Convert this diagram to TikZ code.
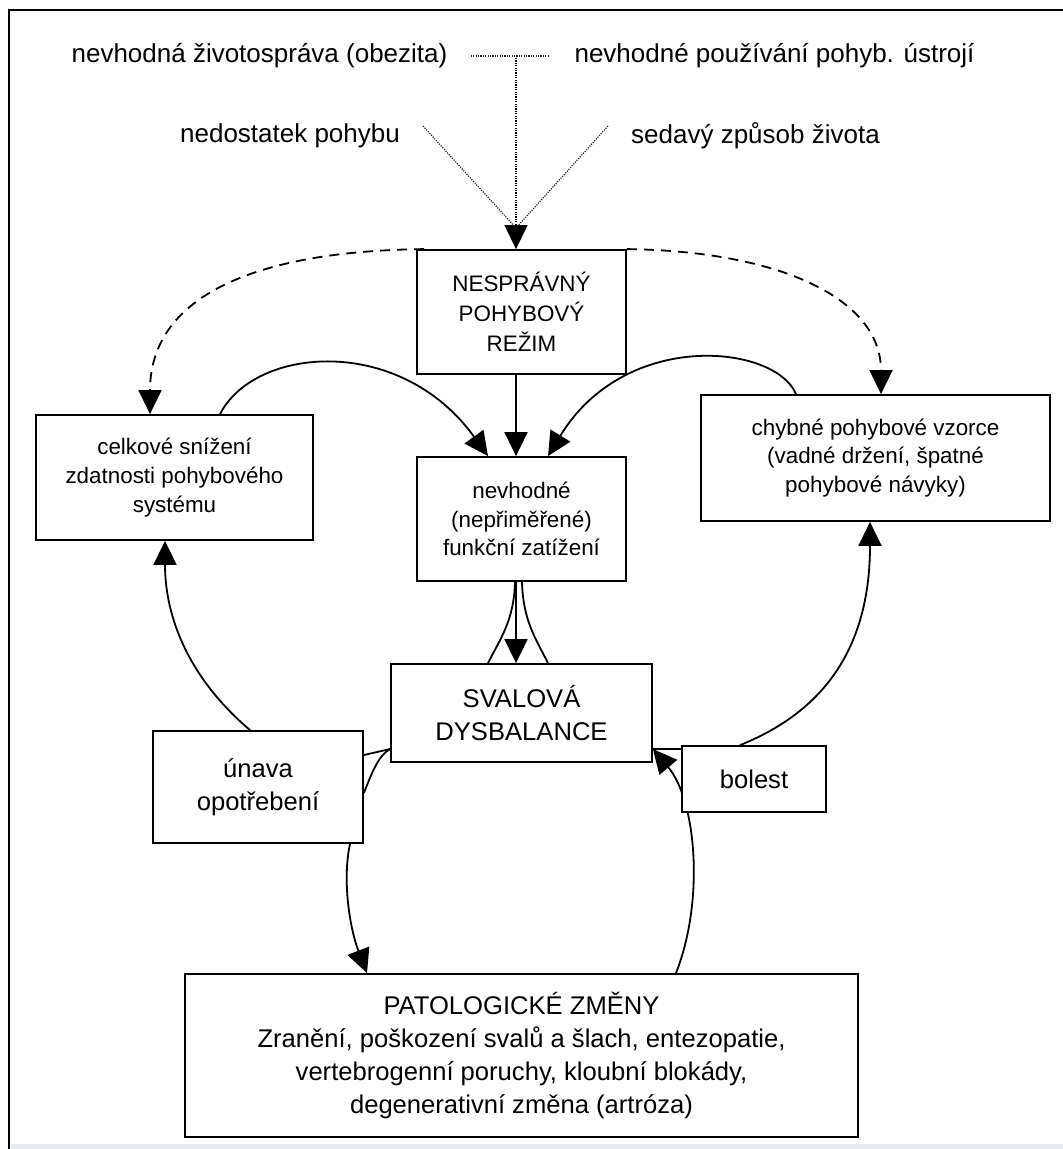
\documentclass[tikz,border=0pt]{standalone}
\usepackage{fontspec}
\setmainfont{Liberation Sans}
\usepackage{xcolor}
\usetikzlibrary{arrows.meta}
\definecolor{pruh}{RGB}{230,234,242}

\begin{document}
\begin{tikzpicture}[x=0.5pt,y=-0.5pt]
    \tikzset{
        box/.style={draw,line width=0.9pt,fill=white,inner sep=0pt,align=center},
        maly/.style={font=\fontsize{11.2}{14.3}\selectfont},
        velky/.style={font=\fontsize{12.8}{16.6}\selectfont},
        popis/.style={font=\fontsize{13}{16}\selectfont,inner sep=0pt},
        hrotik/.style={-{Triangle[length=12pt,width=11.5pt]}},
        sipka/.style={line width=0.9pt,hrotik},
        cara/.style={line width=0.9pt},
        carka/.style={sipka,dash pattern=on 5pt off 3.5pt},
        tecky/.style={line width=0.6pt,black!85,dash pattern=on 0.6pt off 0.6pt}
    }
    \useasboundingbox (0,0) rectangle (1063,1149);
    \fill[pruh] (11,1144) rectangle (1063,1149);
    \draw[line width=1pt] (9,1149) |- (1063,10);

    \node[popis] (obezita) at (259.5,56) {nevhodná životospráva (obezita)};
    \node[popis] (ustroji) at (774.5,56) {nevhodné používání pohyb. ústrojí};
    \node[popis] (nedostatek) at (290,136) {nedostatek pohybu};
    \node[popis] (sedavy) at (755.5,136) {sedavý způsob života};
    \coordinate (spoj) at (516,58);
    \coordinate (hrot) at (516,228);
    \coordinate (n1) at (423,126);
    \coordinate (s1) at (608,126);

    \node[box,font=\fontsize{11.2}{15}\selectfont,minimum width=104.5pt,minimum height=62pt] (rezim) at (521.5,312) {NESPRÁVNÝ\\POHYBOVÝ\\REŽIM};
    \node[box,maly,minimum width=138.5pt,minimum height=62.5pt] (celkove) at (174.5,477.5) {celkové snížení\\zdatnosti pohybového\\systému};
    \node[box,maly,minimum width=104.5pt,minimum height=62pt] (zatizeni) at (521.5,519) {nevhodné\\(nepřiměřené)\\funkční zatížení};
    \node[box,maly,minimum width=174.5pt,minimum height=63pt] (vzorce) at (875.5,458) {chybné pohybové vzorce\\(vadné držení, špatné\\pohybové návyky)};
    \node[box,velky,minimum width=130.5pt,minimum height=49pt] (dysbalance) at (521.5,713) {SVALOVÁ\\DYSBALANCE};
    \node[box,velky,minimum width=105pt,minimum height=56pt] (unava) at (258,787) {únava\\opotřebení};
    \node[box,velky,minimum width=336.5pt,minimum height=81.5pt] (zmeny) at (521.5,1055.5) {PATOLOGICKÉ ZMĚNY\\Zranění, poškození svalů a šlach, entezopatie,\\vertebrogenní poruchy, kloubní blokády,\\degenerativní změna (artróza)};

    \draw[tecky] ([xshift=11.5pt]obezita.east) -- ([xshift=-12.5pt]ustroji.west);
    \draw[tecky,black,hrotik] (spoj) -- (spoj |- rezim.north);
    \draw[tecky] (n1) -- (hrot);
    \draw[tecky] (s1) -- (hrot);

    \draw[carka] ([xshift=4pt]rezim.north west) .. controls +(-175,2) and +(0,-115) .. ([xshift=-12.25pt]celkove.north);
    \draw[carka] (rezim.north east) .. controls +(154,2) and +(0,-95) .. ([xshift=2.75pt]vzorce.north);

    \draw[sipka] (rezim.south -| spoj) -- (zatizeni.north -| spoj);
    \draw[sipka] ([xshift=22.75pt]celkove.north) .. controls +(35,-68) and +(-88,-122) .. ([xshift=-16.75pt]zatizeni.north);
    \draw[sipka] ([xshift=-39.75pt]vzorce.north) .. controls +(-21,-50) and +(77,-127) .. ([xshift=13.25pt]zatizeni.north);

    \draw[sipka] (zatizeni.south -| spoj) -- (dysbalance.north -| spoj);
    \draw[cara] ([xshift=-3.25pt]zatizeni.south) .. controls +(-1,39) and +(12,-24) .. ([xshift=-16.75pt]dysbalance.north);
    \draw[cara] ([xshift=0.25pt]zatizeni.south) .. controls +(1,39) and +(-12,-24) .. ([xshift=13.25pt]dysbalance.north);

    \draw[sipka] ([xshift=-4pt]unava.north) .. controls +(-60,-51) and +(0,78) .. ([xshift=-4.75pt]celkove.south);
    \draw[cara] ([yshift=16pt]unava.east) -- ([yshift=-18pt]dysbalance.west);
    \draw[cara] ([yshift=-3pt]unava.east) .. controls +(9,-23) and +(-11,6) .. ([yshift=-18pt]dysbalance.west);
    \draw[sipka] ([xshift=46pt]unava.south) .. controls +(-8,37) and +(-17,-44) .. ([xshift=-77.25pt]zmeny.north);

    \draw[sipka] ([xshift=77.25pt]zmeny.north) .. controls +(29,-74) and +(43,51) .. ([yshift=-18pt]dysbalance.east);
    \node[box,velky,minimum width=72pt,minimum height=33pt] (bolest) at (754,779) {bolest};
    \draw[cara] ([yshift=15pt]bolest.west) -- ([yshift=-18pt]dysbalance.east);
    \draw[sipka] ([xshift=-7pt]bolest.north) .. controls +(90,-36) and +(0,119) .. ([xshift=-2.75pt]vzorce.south);
\end{tikzpicture}
\end{document}
